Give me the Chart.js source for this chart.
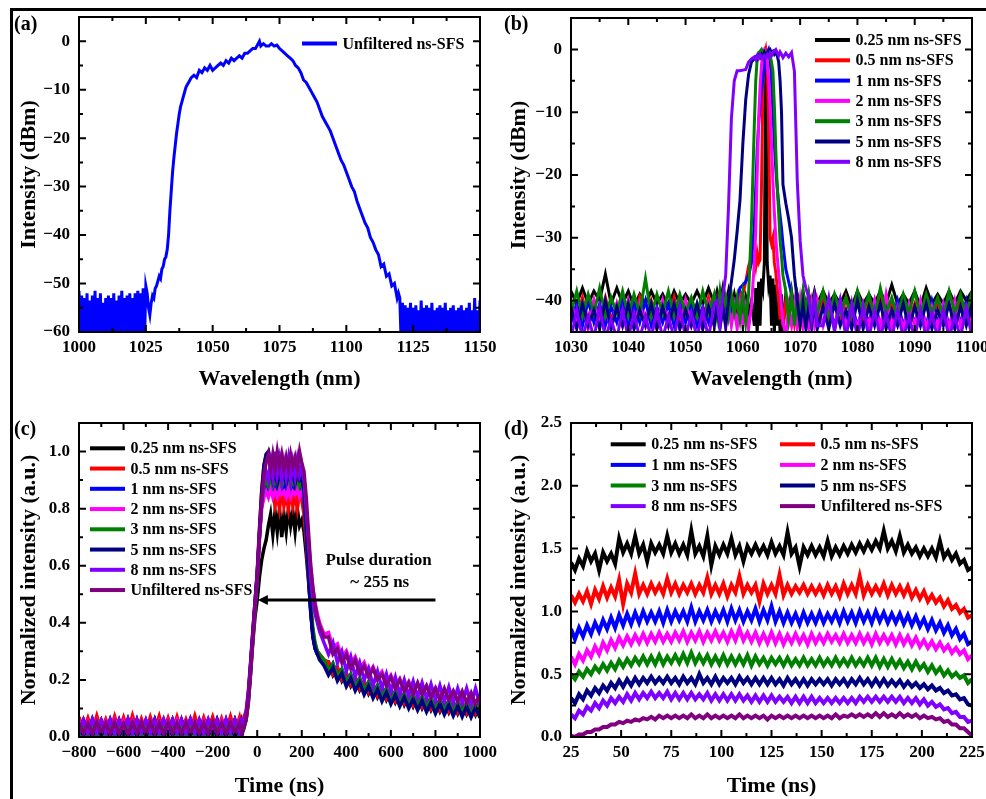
<!DOCTYPE html>
<html>
<head>
<meta charset="utf-8">
<script src="https://cdn.jsdelivr.net/npm/chart.js@4.4.1/dist/chart.umd.min.js"></script>
<style>
  html, body { margin: 0; padding: 0; background: #fff; }
  body { width: 986px; height: 799px; overflow: hidden; position: relative; }
  .frame { position: absolute; left: 10px; top: 8px; width: 1200px; height: 1200px; border: 3px solid #000; }
  canvas { position: absolute; }
  .tag { position: absolute; font: bold 20px/20px 'Liberation Serif', 'Times New Roman', serif; color: #000; }
</style>
</head>
<body>
<div class="frame"></div>
<canvas id="chart-a" width="560" height="430" style="left:-30px;top:-30px"></canvas>
<canvas id="chart-b" width="580" height="430" style="left:460px;top:-30px"></canvas>
<canvas id="chart-c" width="560" height="430" style="left:-30px;top:370px"></canvas>
<canvas id="chart-d" width="580" height="430" style="left:460px;top:370px"></canvas>
<div class="tag" style="left:14px;top:13px">(a)</div>
<div class="tag" style="left:504px;top:13px">(b)</div>
<div class="tag" style="left:14px;top:418px">(c)</div>
<div class="tag" style="left:504px;top:418px">(d)</div>
<script>
// (a) unfiltered spectrum
const aWavelength = [
  1000,1000.5,1001,1001.5,1002,1002.5,1003,1003.5,1004,1004.5,1005,1005.5,1006,1006.5,1007,1007.5,1008,1008.5,1009,1009.5,
  1010,1010.5,1011,1011.5,1012,1012.5,1013,1013.5,1014,1014.5,1015,1015.5,1016,1016.5,1017,1017.5,1018,1018.5,1019,1019.5,
  1020,1020.5,1021,1021.5,1022,1022.5,1023,1023.5,1024,1024.5,1025,
  1025.5,1026,1026.5,1027,1027.5,1028,1028.5,1029,1029.5,1030,
  1030.5,1031,1031.5,1032,1032.5,1033,1033.5,1034,1034.5,1035,
  1035.5,1036,1036.5,1037,1037.5,1038,1038.5,1039,1039.5,1040,
  1040.5,1041,1041.5,1042,1043,1044,1045,1046,1047,1048,
  1049,1050,1051,1052,1053,1054,1055,1056,1057,1058,
  1059,1060,1061,1062,1063,1064,1065,1066,1067,1067.5,
  1068,1069,1070,1071,1072,1073,1074,1075,1076,1077,
  1078,1079,1080,1081,1082,1083,1084,1085,1086,1087,
  1088,1089,1090,1091,1092,1093,1094,1095,1096,1097,
  1098,1099,1100,1101,1102,1103,1104,1105,1106,1107,
  1108,1109,1110,1111,1112,1113,1114,1115,1116,1117,
  1118,1119,1119.5,
  1120,1120.5,1121,1121.5,1122,1122.5,1123,1123.5,1124,1124.5,1125,1125.5,1126,1126.5,1127,1127.5,1128,1128.5,1129,1129.5,
  1130,1130.5,1131,1131.5,1132,1132.5,1133,1133.5,1134,1134.5,1135,1135.5,1136,1136.5,1137,1137.5,1138,1138.5,1139,1139.5,
  1140,1140.5,1141,1141.5,1142,1142.5,1143,1143.5,1144,1144.5,1145,1145.5,1146,1146.5,1147,1147.5,1148,1148.5,1149,1149.5,1150
];
const aIntensity = [
  -51.5,-62,-52.5,-62,-53,-62,-52,-62,-53.5,-62,-52.5,-62,-51.5,-62,-53,-62,-52,-62,-54,-62,
  -53,-62,-52.5,-62,-53,-62,-52,-62,-53.5,-62,-52.5,-62,-51.5,-62,-53,-62,-52.5,-62,-52,-62,
  -53,-62,-52,-62,-51.5,-62,-52,-62,-51,-62,-50.5,
  -52,-55,-56.5,-54,-52.5,-53,-51,-50.5,-49.5,-48.5,
  -49,-47,-46.5,-45,-44.5,-43,-40,-35,-31,-27,
  -24,-21.5,-19,-17,-15,-13.5,-12.5,-11.5,-10.5,-9.5,
  -9,-8.5,-8,-7.5,-7,-7.5,-6,-6.5,-5.5,-6,
  -5,-6,-5.5,-5,-4.5,-5,-4,-4.5,-3.5,-4,
  -3.5,-3,-3.5,-2.5,-2.5,-2,-1.5,-1.5,-0.5,0,
  -1,-0.5,-1,-1,-0.5,-1,-0.8,-1.5,-2,-2.5,
  -3,-3.5,-4,-5,-5.5,-6.5,-8,-8.5,-9.5,-10.5,
  -11.5,-12.5,-14,-15.5,-16.5,-17.5,-18.5,-20,-21.5,-23,
  -24.5,-25.5,-27,-28.5,-30,-31,-33,-34.5,-36,-37.5,
  -38.5,-40.5,-41.5,-43,-44,-46.5,-46,-48.5,-48,-50.5,
  -50,-53,-52,
  -53,-62,-54,-62,-54.5,-62,-55,-62,-54,-62,-55,-62,-54.5,-62,-55.5,-62,-53.5,-62,-55,-62,
  -54.5,-62,-55,-62,-54,-62,-55.5,-62,-55,-62,-54.5,-62,-55,-62,-54,-62,-55.5,-62,-55,-62,
  -54.5,-62,-55.5,-62,-55,-62,-54.5,-62,-55.5,-62,-55,-62,-54,-62,-55.5,-62,-53,-62,-55.5,-62,-53.5
];

// (b) filtered spectra, shared wavelength grid
const bWavelength = [
  1030,1031,1032,1033,1034,1035,1036,1037,1038,1039,1040,1041,1042,1043,1044,1045,1046,1047,1048,1049,1050,1051,1052,1053,1054,1055,
  1055.5,1056,1056.5,1057,1057.5,1058,1058.5,1059,1059.5,1060,1060.5,1061,1061.5,
  1062,1062.25,1062.5,1062.75,1063,1063.25,1063.5,1063.75,1064,1064.25,1064.5,1064.75,1065,1065.25,1065.5,1065.75,1066,1066.25,1066.5,1066.75,1067,
  1067.5,1068,1068.5,1069,1069.5,1070,1070.5,1071,1071.5,1072,1072.5,1073,
  1074,1075,1076,1077,1078,1079,1080,1081,1082,1083,1084,1085,1086,1087,1088,1089,1090,1091,1092,1093,1094,1095,1096,1097,1098,1099,1100
];
const bIntensityTicks = [-40, -30, -20, -10, 0];
const b025 = [
  -38.5,-40.5,-38,-40.5,-38.5,-40,-35.8,-40.5,-38,-40.5,-38.5,-41,-39,-40.5,-38.5,-40.5,-39,-41,-38.5,-40.5,-39,-40.5,-38.5,-40.5,-38,-40.5,
  -38.5,-40.5,-38,-41,-38.5,-41,-39,-41.5,-39,-42,-39.5,-42,-40,
  -44,-38,-45.5,-37,-44,-36.5,-38,-34,0,-34,-37.5,-36,-44,-36.5,-45,-37.5,-44,-38.5,-45.5,-39,-45,
  -39,-42,-38.5,-41.5,-39,-41,-38.5,-41,-39,-40.5,-38.5,-40.5,
  -38.5,-40.5,-39,-40.5,-38.5,-41,-38.5,-40.5,-39,-40.5,-38.5,-40.5,-37.5,-40.5,-39,-40.5,-38.5,-41,-38,-40.5,-39,-40.5,-38.5,-40.5,-38.5,-40,-38.5
];
const b05 = [
  -40,-43,-39.5,-43.5,-40,-43,-39.5,-43,-40.5,-43.5,-40,-43,-39.5,-43.5,-40,-43,-40.5,-43,-39.5,-43.5,-40,-43,-40.5,-43,-39.5,-43,
  -40,-43,-40.5,-43,-40,-42.5,-40,-41,-38.5,-39,-37,-34.5,-33,
  -33,-34.5,-32.5,-34,-33.5,-22,-6,-1,0,-2,-12,-30,-31,-30,-34,-35.5,-38,-40,-43,-41,-44,
  -40,-43,-39.5,-43.5,-40,-43,-40.5,-43,-39.5,-43.5,-40,-43,
  -40,-43,-40.5,-43.5,-39.5,-43,-40,-43.5,-40.5,-43,-39.5,-43,-40,-43.5,-40,-43,-40.5,-43.5,-39.5,-43,-40,-43,-40.5,-43.5,-39.5,-43,-40
];
const b1 = [
  -43.5,-40.5,-44,-40,-43.5,-40.5,-44,-41,-43.5,-40,-44,-40.5,-43.5,-40,-44,-41,-43.5,-40.5,-44,-40,-43.5,-40.5,-44,-41,-43.5,-40,
  -40.5,-43.5,-40,-43,-40.5,-42,-40,-39.5,-38,-37.5,-37,-36,-34,
  -28,-22,-16,-12,-9,-6.5,-4.5,-3,-1.5,-0.5,0,-1,-5,-10,-15,-19,-22,-24.5,-26.5,-28.5,-31,
  -35,-37,-39,-42,-40,-43.5,-40.5,-43.5,-40,-44,-40.5,-43.5,
  -43.5,-40.5,-44,-40,-43.5,-40.5,-44,-41,-43.5,-40,-44,-40.5,-43.5,-40,-44,-41,-43.5,-40.5,-44,-40,-43.5,-40.5,-44,-41,-43.5,-40,-44
];
const b2 = [
  -40,-44,-40.5,-44.5,-40,-44,-41,-44.5,-40.5,-44,-40,-44.5,-40.5,-44,-41,-44.5,-40,-44,-40.5,-44.5,-40,-44,-41,-44.5,-40.5,-44,
  -40.5,-44,-40,-44.5,-40.5,-44,-41,-44.5,-40.5,-44,-41,-44.5,-41,
  -34,-29,-20,-11,-6,-2.5,-0.5,0,-0.5,-2,-4.5,-9,-15,-21,-26,-30,-33,-35.5,-38,-41,-43.5,
  -45.5,-41,-44,-40.5,-44.5,-40,-44,-41,-44.5,-40.5,-44,-40,
  -44,-40.5,-44.5,-40,-44,-41,-44.5,-40.5,-44,-40,-44.5,-39,-44,-41,-44.5,-40.5,-44,-40,-44.5,-41,-44,-40.5,-44.5,-40,-44,-41,-44.5
];
const b3 = [
  -42,-38.5,-42.5,-39,-42,-38,-42.5,-39.5,-42,-38.5,-42.5,-39,-42,-36.5,-42.5,-39,-42,-38.5,-42.5,-39,-42,-39.5,-42.5,-38.5,-42,-39,
  -42.5,-38.5,-42,-39.5,-42.5,-39,-42,-39.5,-43,-39,-43.5,-39,-28,
  -12,-5,-1.5,-0.5,-0.3,0,-0.5,-0.3,-0.6,-0.4,-0.8,-1,-2,-3.5,-9,-16,-22,-26,-30.5,-33,-36,
  -38.5,-43,-39,-44,-39.5,-42.5,-38.5,-42,-39,-42.5,-39.5,-42,
  -38.5,-42.5,-39,-42,-39.5,-42.5,-38.5,-42,-39,-42.5,-38,-42,-39.5,-42.5,-39,-42,-38.5,-42.5,-39,-42,-39.5,-42.5,-38.5,-42,-39,-42.5,-38.5
];
const b5 = [
  -41,-44.5,-40.5,-44,-41.5,-44.5,-40,-44.5,-41,-44,-40.5,-44.5,-41.5,-44,-40.5,-44.5,-41,-44,-40.5,-44.5,-41.5,-44,-40.5,-44.5,-41,-44,
  -40.5,-44.5,-41,-44,-40,-37,-33.5,-29,-24,-15,-8,-4,-2,
  -1.5,-1.2,-1.5,-1,-1.3,-0.8,-1.2,-0.5,-1,-0.5,-0.2,0,-0.5,-0.3,-0.8,-0.5,-1,-2,-5,-10,-21.5,
  -24.5,-27,-30,-36,-40,-44,-40.5,-44.5,-41,-44,-40.5,-44.5,
  -41,-44.5,-40.5,-44,-41.5,-44.5,-40,-44.5,-41,-44,-40.5,-44.5,-41.5,-44,-40.5,-44.5,-41,-44,-40.5,-44.5,-41.5,-44,-40.5,-44.5,-41,-44,-40.5
];
const b8 = [
  -46,-41.5,-46,-42.5,-46,-41,-46,-43,-46,-41.5,-46,-42,-46,-42.5,-46,-41.5,-46,-42.5,-46,-41,-46,-42,-46,-41.5,-46,-40.5,
  -40,-44,-39.5,-36,-25,-11,-5,-3.4,-3.4,-3.3,-3.2,-2,-1.5,
  -1.2,-1.6,-1,-1.4,-0.8,-1.2,-1.5,-1,-1.3,-0.8,-1.2,-0.6,-1,-0.5,-0.2,0,-0.5,-1,-0.4,-0.8,-1.3,
  -0.6,-1.2,-0.5,-3.5,-21,-30.5,-36,-38,-39.5,-43,-39.5,-44,
  -44,-39.5,-45,-40,-46,-40.5,-46,-41,-46,-41.5,-46,-42,-46,-41.5,-46,-42.5,-46,-41.5,-46,-42,-46,-41.5,-46,-42.5,-46,-41,-46
];

// (c) temporal pulse shapes
const cTime = [
  -800,-780,-760,-740,-720,-700,-680,-660,-640,-620,-600,-580,-560,-540,-520,-500,-480,-460,-440,-420,
  -400,-380,-360,-340,-320,-300,-280,-260,-240,-220,-200,-180,-160,-140,-120,-100,-80,
  -70,-60,-50,-40,-30,-20,-10,0,10,20,30,40,50,60,70,80,90,100,110,120,
  130,140,150,160,170,180,190,200,210,220,230,240,250,260,270,280,290,300,
  320,340,360,380,400,420,440,460,480,500,520,540,560,580,600,620,640,660,680,700,
  720,740,760,780,800,820,840,860,880,900,920,940,960,980,1000
];
const c025 = [
  0.021,0.06,0.019,0.062,0.022,0.058,0.02,0.061,0.021,0.059,0.019,0.063,0.022,0.06,0.02,0.058,0.021,0.062,0.019,0.06,0.022,0.061,0.02,0.059,0.021,0.063,0.019,0.058,0.022,0.06,0.02,0.062,0.021,0.059,0.019,0.061,0.02,
  0.06,0.04,0.06,0.12,0.22,0.33,0.42,0.48,0.56,0.62,0.66,0.69,0.74,0.78,0.71,0.79,0.72,0.8,0.7,0.78,0.72,0.8,0.74,0.79,0.72,0.8,0.74,0.76,0.72,0.64,0.55,0.45,0.36,0.31,0.29,0.28,0.27,0.26,
  0.263,0.217,0.243,0.197,0.223,0.179,0.208,0.165,0.194,0.152,0.182,0.14,0.171,0.13,0.161,0.121,0.153,0.113,0.146,0.107,0.14,0.101,0.134,0.095,0.128,0.09,0.124,0.086,0.12,0.082,0.117,0.08,0.115,0.078,0.113
];
const c05 = [
  0.07,0.022,0.066,0.02,0.074,0.024,0.062,0.021,0.072,0.023,0.068,0.02,0.075,0.022,0.064,0.021,0.07,0.024,0.073,0.02,0.066,0.022,0.071,0.023,0.062,0.02,0.074,0.021,0.068,0.024,0.07,0.02,0.065,0.022,0.072,0.021,0.068,
  0.022,0.07,0.09,0.16,0.26,0.37,0.47,0.58,0.73,0.86,0.95,0.99,1.0,0.96,0.86,0.81,0.85,0.8,0.86,0.81,0.85,0.8,0.86,0.81,0.85,0.8,0.86,0.83,0.78,0.68,0.56,0.45,0.36,0.32,0.3,0.29,0.28,0.27,
  0.263,0.221,0.243,0.201,0.223,0.183,0.208,0.169,0.194,0.156,0.182,0.144,0.171,0.134,0.161,0.125,0.153,0.117,0.146,0.111,0.14,0.105,0.134,0.099,0.128,0.094,0.124,0.09,0.12,0.086,0.117,0.084,0.115,0.082,0.113
];
const c1 = [
  0.011,0.057,0.009,0.06,0.012,0.056,0.01,0.059,0.011,0.057,0.009,0.058,0.012,0.06,0.01,0.056,0.011,0.059,0.009,0.057,0.012,0.058,0.01,0.06,0.011,0.056,0.009,0.059,0.012,0.057,0.01,0.058,0.011,0.06,0.009,0.057,0.01,
  0.058,0.05,0.08,0.15,0.25,0.36,0.47,0.57,0.71,0.82,0.86,0.88,0.86,0.89,0.86,0.88,0.86,0.89,0.86,0.88,0.86,0.89,0.87,0.88,0.86,0.89,0.86,0.88,0.83,0.72,0.57,0.44,0.35,0.31,0.29,0.28,0.27,0.26,
  0.232,0.258,0.212,0.238,0.192,0.22,0.177,0.206,0.163,0.193,0.151,0.181,0.14,0.171,0.13,0.162,0.122,0.154,0.115,0.148,0.109,0.142,0.103,0.136,0.097,0.131,0.093,0.127,0.089,0.123,0.086,0.121,0.084,0.119,0.082
];
const c2 = [
  0.055,0.01,0.052,0.012,0.056,0.009,0.053,0.011,0.057,0.01,0.054,0.012,0.055,0.009,0.052,0.011,0.056,0.01,0.053,0.012,0.055,0.009,0.057,0.011,0.054,0.01,0.052,0.012,0.056,0.009,0.053,0.011,0.055,0.01,0.054,0.012,0.055,
  0.01,0.05,0.08,0.14,0.24,0.35,0.46,0.56,0.7,0.8,0.84,0.86,0.84,0.87,0.84,0.86,0.84,0.87,0.85,0.86,0.84,0.87,0.84,0.86,0.85,0.87,0.84,0.86,0.84,0.77,0.68,0.6,0.52,0.47,0.43,0.4,0.38,0.36,
  0.366,0.314,0.326,0.279,0.301,0.259,0.281,0.239,0.261,0.221,0.246,0.206,0.229,0.19,0.216,0.178,0.204,0.167,0.194,0.157,0.186,0.15,0.178,0.143,0.172,0.137,0.166,0.132,0.161,0.127,0.156,0.122,0.152,0.118,0.148
];
const c3 = [
  0.001,0.04,0.0,0.038,0.002,0.041,0.0,0.039,0.001,0.042,0.0,0.038,0.002,0.04,0.001,0.041,0.0,0.039,0.002,0.04,0.001,0.042,0.0,0.038,0.001,0.041,0.002,0.039,0.0,0.04,0.001,0.042,0.0,0.039,0.002,0.04,0.001,
  0.04,0.03,0.06,0.13,0.23,0.34,0.45,0.55,0.7,0.82,0.88,0.9,0.88,0.91,0.88,0.9,0.88,0.91,0.88,0.9,0.89,0.91,0.88,0.9,0.88,0.91,0.88,0.9,0.85,0.74,0.6,0.47,0.38,0.33,0.3,0.29,0.28,0.27,
  0.234,0.256,0.214,0.236,0.194,0.218,0.179,0.204,0.165,0.191,0.153,0.179,0.142,0.169,0.132,0.16,0.124,0.152,0.117,0.146,0.111,0.14,0.105,0.134,0.099,0.129,0.095,0.125,0.091,0.121,0.088,0.119,0.086,0.117,0.084
];
const c5 = [
  0.045,0.002,0.042,0.0,0.047,0.003,0.044,0.001,0.046,0.002,0.043,0.0,0.045,0.003,0.047,0.001,0.042,0.002,0.046,0.0,0.044,0.003,0.045,0.001,0.043,0.002,0.047,0.0,0.044,0.003,0.046,0.001,0.043,0.002,0.045,0.0,0.044,
  0.0,0.04,0.07,0.14,0.25,0.36,0.47,0.57,0.72,0.86,0.95,0.99,1.0,0.94,0.9,0.93,0.89,0.92,0.9,0.93,0.89,0.92,0.9,0.93,0.89,0.92,0.9,0.91,0.86,0.74,0.58,0.44,0.35,0.31,0.29,0.27,0.26,0.25,
  0.217,0.243,0.197,0.223,0.177,0.205,0.162,0.191,0.148,0.178,0.136,0.166,0.125,0.156,0.115,0.147,0.107,0.139,0.1,0.133,0.094,0.127,0.088,0.121,0.082,0.116,0.078,0.112,0.074,0.108,0.071,0.106,0.069,0.104,0.067
];
const c8 = [
  0.016,0.058,0.014,0.061,0.017,0.057,0.015,0.06,0.013,0.059,0.016,0.062,0.014,0.058,0.017,0.06,0.015,0.057,0.016,0.061,0.014,0.059,0.017,0.058,0.015,0.062,0.016,0.057,0.014,0.06,0.017,0.058,0.015,0.061,0.016,0.059,0.015,
  0.06,0.05,0.08,0.14,0.24,0.35,0.46,0.56,0.7,0.82,0.9,0.93,0.9,0.96,0.91,1.0,0.92,0.97,0.9,0.96,0.91,0.97,0.9,0.96,0.91,0.97,0.92,0.95,0.9,0.8,0.68,0.56,0.48,0.43,0.4,0.37,0.35,0.33,
  0.29,0.33,0.26,0.3,0.23,0.28,0.21,0.26,0.2,0.24,0.18,0.23,0.17,0.22,0.16,0.21,0.15,0.2,0.145,0.195,0.14,0.19,0.135,0.185,0.13,0.18,0.125,0.175,0.12,0.17,0.12,0.17,0.115,0.17,0.115
];
const cUnf = [
  0.05,0.012,0.048,0.01,0.053,0.013,0.049,0.011,0.052,0.012,0.047,0.01,0.051,0.013,0.05,0.011,0.054,0.012,0.048,0.01,0.051,0.013,0.049,0.012,0.052,0.011,0.048,0.013,0.05,0.01,0.053,0.012,0.049,0.011,0.051,0.013,0.05,
  0.012,0.03,0.06,0.12,0.22,0.34,0.45,0.56,0.7,0.83,0.92,0.96,0.99,0.94,0.99,0.94,1.0,0.95,0.99,0.94,0.98,0.94,0.99,0.95,0.98,0.94,1.0,0.96,0.93,0.84,0.72,0.6,0.52,0.46,0.42,0.39,0.37,0.35,
  0.35,0.29,0.31,0.26,0.29,0.24,0.27,0.22,0.25,0.21,0.24,0.2,0.22,0.18,0.21,0.17,0.2,0.16,0.19,0.15,0.19,0.15,0.18,0.14,0.17,0.13,0.17,0.13,0.16,0.125,0.16,0.12,0.155,0.115,0.15
];
const cArrow = [800, 3];        // ns, arrow tail and tip
const cArrowLevel = 0.48;
const cNote = ['Pulse duration', '~ 255 ns'];
const cNoteAt = [[545, 0.617], [550, 0.54]];

// (d) pulse tops, shifted
const dTime = [
  25,27,29,31,33,35,37,39,41,43,45,47,49,51,53,55,57,59,61,63,65,67,69,71,73,75,77,79,81,83,85,87,89,91,93,95,97,99,101,103,
  105,107,109,111,113,115,117,119,121,123,125,127,129,131,133,135,137,139,141,143,145,147,149,151,153,155,157,159,161,163,
  165,167,169,171,173,175,177,179,181,183,185,187,189,191,193,195,197,199,201,203,205,207,209,211,213,215,217,219,221,223,225
];
const d025 = [
  1.39,1.33,1.42,1.36,1.48,1.4,1.46,1.33,1.47,1.4,1.46,
  1.38,1.58,1.47,1.54,1.46,1.6,1.46,1.53,1.4,1.54,
  1.47,1.53,1.46,1.6,1.47,1.54,1.46,1.53,1.45,1.64,
  1.46,1.52,1.44,1.6,1.37,1.52,1.45,1.53,1.46,1.58,
  1.45,1.52,1.4,1.52,1.46,1.53,1.46,1.52,1.45,1.55,
  1.46,1.52,1.45,1.63,1.46,1.51,1.36,1.51,1.45,1.52,
  1.45,1.51,1.44,1.56,1.44,1.51,1.45,1.52,1.46,1.53,
  1.47,1.54,1.48,1.55,1.49,1.56,1.5,1.64,1.5,1.56,
  1.48,1.6,1.47,1.53,1.46,1.51,1.44,1.5,1.44,1.5,
  1.43,1.56,1.43,1.48,1.41,1.46,1.38,1.41,1.33,1.35
];
const d05 = [
  1.13,1.07,1.14,1.08,1.16,1.06,1.17,1.1,1.2,1.11,1.19,
  1.12,1.25,1.06,1.22,1.15,1.3,1.14,1.21,1.14,1.22,
  1.15,1.21,1.14,1.26,1.15,1.22,1.14,1.21,1.15,1.22,
  1.14,1.21,1.15,1.27,1.14,1.21,1.14,1.22,1.12,1.21,
  1.15,1.28,1.14,1.21,1.15,1.21,1.08,1.22,1.14,1.21,
  1.14,1.29,1.13,1.21,1.14,1.2,1.15,1.21,1.14,1.2,
  1.14,1.2,1.13,1.21,1.14,1.2,1.12,1.22,1.14,1.21,
  1.14,1.28,1.13,1.21,1.14,1.2,1.14,1.22,1.13,1.21,
  1.14,1.2,1.13,1.2,1.11,1.17,1.1,1.16,1.08,1.13,
  1.07,1.11,1.04,1.09,1.02,1.05,0.99,1.02,0.95,0.97
];
const d1 = [
  0.86,0.78,0.87,0.8,0.89,0.82,0.91,0.84,0.93,0.86,0.95,
  0.87,0.97,0.89,0.98,0.9,0.99,0.91,1.0,0.92,0.99,
  0.92,1.0,0.91,1.01,0.92,1.0,0.93,1.0,0.92,1.03,
  0.92,1.0,0.93,1.01,0.92,1.0,0.93,1.01,0.92,1.02,
  0.93,1.01,0.92,1.0,0.93,1.02,0.92,1.01,0.93,1.04,
  0.92,1.0,0.91,0.99,0.91,0.98,0.9,0.99,0.91,0.98,
  0.91,0.99,0.91,0.98,0.92,0.99,0.91,1.0,0.92,0.99,
  0.91,1.0,0.92,0.99,0.91,1.0,0.92,0.99,0.91,0.98,
  0.91,0.98,0.9,0.97,0.89,0.96,0.88,0.94,0.86,0.93,
  0.85,0.91,0.83,0.89,0.81,0.86,0.78,0.82,0.74,0.76
];
const d2 = [
  0.64,0.58,0.66,0.61,0.69,0.64,0.72,0.66,0.75,0.69,0.77,
  0.71,0.79,0.73,0.8,0.74,0.81,0.75,0.82,0.75,0.82,
  0.76,0.83,0.76,0.82,0.76,0.83,0.77,0.84,0.76,0.83,
  0.77,0.84,0.76,0.83,0.77,0.84,0.77,0.83,0.76,0.84,
  0.77,0.86,0.77,0.83,0.76,0.83,0.75,0.82,0.75,0.83,
  0.75,0.82,0.74,0.81,0.75,0.82,0.75,0.81,0.74,0.82,
  0.75,0.81,0.75,0.82,0.76,0.81,0.75,0.82,0.75,0.81,
  0.75,0.82,0.75,0.81,0.74,0.82,0.75,0.81,0.75,0.81,
  0.74,0.81,0.74,0.8,0.73,0.79,0.72,0.77,0.71,0.76,
  0.7,0.75,0.69,0.73,0.67,0.71,0.66,0.69,0.62,0.65
];
const d3 = [
  0.5,0.46,0.52,0.48,0.54,0.5,0.56,0.52,0.58,0.53,0.59,
  0.54,0.61,0.56,0.62,0.57,0.63,0.58,0.64,0.58,0.64,
  0.58,0.65,0.58,0.64,0.59,0.65,0.59,0.66,0.59,0.67,
  0.59,0.65,0.59,0.65,0.58,0.64,0.58,0.65,0.58,0.64,
  0.58,0.64,0.58,0.65,0.57,0.64,0.58,0.63,0.57,0.63,
  0.58,0.63,0.57,0.63,0.57,0.62,0.57,0.63,0.57,0.62,
  0.57,0.63,0.57,0.62,0.57,0.63,0.57,0.62,0.57,0.63,
  0.57,0.62,0.57,0.63,0.57,0.63,0.56,0.62,0.56,0.62,
  0.56,0.61,0.55,0.6,0.54,0.6,0.54,0.58,0.52,0.57,
  0.51,0.55,0.49,0.53,0.48,0.51,0.47,0.49,0.43,0.46
];
const d5 = [
  0.31,0.27,0.34,0.3,0.37,0.33,0.39,0.35,0.41,0.37,0.43,
  0.39,0.45,0.4,0.46,0.41,0.47,0.42,0.47,0.43,0.48,
  0.43,0.47,0.43,0.48,0.43,0.47,0.42,0.48,0.43,0.47,
  0.42,0.5,0.43,0.47,0.42,0.48,0.42,0.47,0.43,0.47,
  0.42,0.48,0.43,0.47,0.42,0.47,0.42,0.47,0.42,0.47,
  0.42,0.46,0.41,0.47,0.42,0.46,0.41,0.46,0.41,0.46,
  0.42,0.46,0.42,0.46,0.41,0.46,0.42,0.46,0.41,0.46,
  0.42,0.47,0.42,0.46,0.41,0.46,0.41,0.46,0.41,0.45,
  0.41,0.45,0.4,0.44,0.4,0.43,0.39,0.42,0.38,0.41,
  0.37,0.39,0.35,0.37,0.33,0.34,0.3,0.31,0.26,0.25
];
const d8 = [
  0.18,0.15,0.21,0.18,0.24,0.21,0.27,0.23,0.29,0.25,0.31,
  0.27,0.32,0.28,0.34,0.29,0.35,0.3,0.35,0.31,0.36,
  0.31,0.35,0.31,0.36,0.3,0.35,0.3,0.35,0.3,0.35,
  0.3,0.34,0.3,0.35,0.29,0.34,0.29,0.34,0.29,0.34,
  0.29,0.34,0.29,0.33,0.28,0.33,0.28,0.33,0.28,0.33,
  0.28,0.32,0.28,0.32,0.27,0.32,0.27,0.32,0.27,0.32,
  0.27,0.31,0.27,0.31,0.27,0.31,0.27,0.31,0.27,0.31,
  0.27,0.32,0.28,0.32,0.28,0.32,0.28,0.32,0.28,0.32,
  0.28,0.32,0.27,0.31,0.27,0.31,0.26,0.3,0.25,0.28,
  0.24,0.26,0.22,0.23,0.19,0.2,0.16,0.16,0.12,0.13
];
const dUnf = [
  0.01,0.0,0.02,0.02,0.04,0.04,0.06,0.06,0.08,0.08,0.1,
  0.1,0.12,0.11,0.13,0.12,0.14,0.13,0.15,0.14,0.16,
  0.14,0.17,0.15,0.17,0.15,0.17,0.15,0.17,0.15,0.18,
  0.15,0.17,0.15,0.18,0.15,0.17,0.15,0.17,0.15,0.17,
  0.15,0.18,0.15,0.17,0.15,0.17,0.15,0.17,0.14,0.17,
  0.15,0.17,0.15,0.17,0.15,0.17,0.15,0.17,0.15,0.17,
  0.15,0.17,0.15,0.17,0.15,0.18,0.15,0.17,0.16,0.18,
  0.16,0.18,0.16,0.18,0.16,0.19,0.16,0.19,0.16,0.18,
  0.16,0.19,0.16,0.18,0.16,0.18,0.15,0.17,0.15,0.16,
  0.14,0.15,0.12,0.13,0.1,0.1,0.07,0.07,0.04,0.01
];

const seriesLabels = ['0.25 nm ns-SFS', '0.5 nm ns-SFS', '1 nm ns-SFS', '2 nm ns-SFS', '3 nm ns-SFS', '5 nm ns-SFS', '8 nm ns-SFS', 'Unfiltered ns-SFS'];
const seriesColors = ['#000000', '#ff0000', '#0000ff', '#ff00ff', '#008000', '#000080', '#8000ff', '#800080'];

const FONT = "'Liberation Serif', 'Times New Roman', Times, serif";
Chart.defaults.font.family = FONT;
Chart.defaults.color = '#000';

const signed = v => (v < 0 ? '\u2212' + Math.abs(v) : String(v));
const oneDec = v => v.toFixed(1);

function lineSet(label, xs, ys, color, order, width) {
  return {
    label: label,
    data: xs.map((x, i) => ({ x: x, y: ys[i] })),
    borderColor: color,
    backgroundColor: color,
    borderWidth: width,
    pointRadius: 0,
    tension: 0,
    clip: 0,
    order: order
  };
}

// frame around the plot with inward major/minor ticks on all four sides
const boxTicks = {
  id: 'boxTicks',
  afterDatasetsDraw(chart) {
    const { ctx, chartArea: a } = chart;
    ctx.save();
    ctx.strokeStyle = '#000';
    ctx.lineWidth = 2;
    ctx.strokeRect(a.left, a.top, a.right - a.left, a.bottom - a.top);
    ['x', 'y'].forEach(id => {
      const s = chart.scales[id];
      const vals = s.ticks.map(t => t.value);
      const half = (vals[1] - vals[0]) / 2;
      for (let k = -2; k <= vals.length * 2 + 2; k++) {
        const v = vals[0] + k * half;
        if (v < s.min - 1e-9 || v > s.max + 1e-9) continue;
        const p = s.getPixelForValue(v);
        const len = k % 2 === 0 ? 7 : 4;
        ctx.beginPath();
        if (id === 'x') {
          if (p <= a.left + 1 || p >= a.right - 1) continue;
          ctx.moveTo(p, a.bottom); ctx.lineTo(p, a.bottom - len);
          ctx.moveTo(p, a.top); ctx.lineTo(p, a.top + len);
        } else {
          if (p <= a.top + 1 || p >= a.bottom - 1) continue;
          ctx.moveTo(a.left, p); ctx.lineTo(a.left + len, p);
          ctx.moveTo(a.right, p); ctx.lineTo(a.right - len, p);
        }
        ctx.stroke();
      }
    });
    ctx.restore();
  }
};

// legend drawn inside the plot area
const lineLegend = {
  id: 'lineLegend',
  afterDraw(chart, args, o) {
    const { ctx, chartArea: a } = chart;
    ctx.save();
    ctx.font = 'bold 16px ' + FONT;
    ctx.textBaseline = 'middle';
    ctx.textAlign = 'left';
    chart.data.datasets.forEach((ds, i) => {
      const col = i % o.cols, row = Math.floor(i / o.cols);
      const x = a.left + o.x + col * o.colW;
      const y = a.top + o.y + row * o.rowH;
      ctx.fillStyle = ds.borderColor;
      ctx.fillRect(x, y - 2, 35, 4);
      ctx.fillStyle = '#000';
      ctx.fillText(ds.label, x + 40.5, y + 1);
    });
    ctx.restore();
  }
};

// arrow and note in panel (c)
const pulseNote = {
  id: 'pulseNote',
  afterDraw(chart) {
    const { ctx, scales: { x, y } } = chart;
    const x0 = x.getPixelForValue(cArrow[0]);
    const x1 = x.getPixelForValue(cArrow[1]);
    const yy = y.getPixelForValue(cArrowLevel);
    ctx.save();
    ctx.strokeStyle = '#000';
    ctx.fillStyle = '#000';
    ctx.lineWidth = 3;
    ctx.beginPath(); ctx.moveTo(x0, yy); ctx.lineTo(x1 + 8, yy); ctx.stroke();
    ctx.beginPath(); ctx.moveTo(x1, yy); ctx.lineTo(x1 + 10, yy - 5); ctx.lineTo(x1 + 10, yy + 5); ctx.closePath(); ctx.fill();
    ctx.font = 'bold 17px ' + FONT;
    ctx.textAlign = 'center';
    ctx.textBaseline = 'middle';
    cNote.forEach((t, i) => ctx.fillText(t, x.getPixelForValue(cNoteAt[i][0]), y.getPixelForValue(cNoteAt[i][1])));
    ctx.restore();
  }
};

function axis(min, max, step, fmt, title, titlePad, fit) {
  return {
    type: 'linear', min: min, max: max,
    ticks: { stepSize: step, includeBounds: false, autoSkip: false, maxRotation: 0, padding: 5,
             font: { size: 17, weight: 'bold' }, color: '#000', callback: fmt },
    grid: { display: false, drawTicks: false },
    border: { display: false },
    title: { display: true, text: title, color: '#000', font: { size: 22, weight: 'bold' }, padding: titlePad },
    afterFit: fit
  };
}

function drawPanel(id, datasets, p, extra) {
  const xAxis = axis(p.x[0], p.x[1], p.x[2], p.xFmt, p.xTitle, { top: 0, bottom: p.xTitlePad }, s => { s.height = p.xHeight; });
  const yAxis = axis(p.y[0], p.y[1], p.y[2], p.yFmt, p.yTitle, { top: 16, bottom: 0 }, s => { s.width = p.yWidth; });
  yAxis.ticks.padding = 9;
  if (p.yTicks) {
    yAxis.afterBuildTicks = s => { s.ticks = p.yTicks.map(v => ({ value: v })); };
  }
  new Chart(document.getElementById(id).getContext('2d'), {
    type: 'line',
    data: { datasets: datasets },
    options: {
      responsive: false,
      animation: false,
      events: [],
      layout: { padding: { left: 30, top: p.top, right: p.right, bottom: 0 } },
      plugins: { legend: { display: false }, tooltip: { enabled: false }, lineLegend: p.legend },
      scales: { x: xAxis, y: yAxis }
    },
    plugins: [boxTicks, lineLegend].concat(extra || [])
  });
}

// panel (a)
drawPanel('chart-a', [lineSet('Unfiltered ns-SFS', aWavelength, aIntensity, '#0000ff', 0, 3)], {
  top: 47, right: 50, xHeight: 68, yWidth: 79, xTitlePad: 7,
  x: [1000, 1150, 25], y: [-60, 5, 10], xFmt: v => String(v), yFmt: signed,
  xTitle: 'Wavelength (nm)', yTitle: 'Intensity (dBm)',
  legend: { x: 223, y: 26.5, rowH: 20.3, cols: 1, colW: 0 }
});

// panel (b)
const bSeries = [b025, b05, b1, b2, b3, b5, b8];
drawPanel('chart-b', bSeries.map((ys, i) => lineSet(seriesLabels[i], bWavelength, ys, seriesColors[i], bSeries.length - i, 3)), {
  top: 48, right: 68, xHeight: 68, yWidth: 81, xTitlePad: 7,
  x: [1030, 1100, 10], y: [-45, 5, 10], yTicks: bIntensityTicks, xFmt: v => String(v), yFmt: signed,
  xTitle: 'Wavelength (nm)', yTitle: 'Intensity (dBm)',
  legend: { x: 244, y: 22, rowH: 20.3, cols: 1, colW: 0 }
});

// panel (c)
const cSeries = [c025, c05, c1, c2, c3, c5, c8, cUnf];
drawPanel('chart-c', cSeries.map((ys, i) => lineSet(seriesLabels[i], cTime, ys, seriesColors[i], cSeries.length - i, 3.5)), {
  top: 53, right: 50, xHeight: 63, yWidth: 79, xTitlePad: 0,
  x: [-800, 1000, 200], y: [0, 1.1, 0.2], xFmt: signed, yFmt: oneDec,
  xTitle: 'Time (ns)', yTitle: 'Normalized intensity (a.u.)',
  legend: { x: 11, y: 25.3, rowH: 20.25, cols: 1, colW: 0 }
}, [pulseNote]);

// panel (d)
const dSeries = [d025, d05, d1, d2, d3, d5, d8, dUnf];
drawPanel('chart-d', dSeries.map((ys, i) => lineSet(seriesLabels[i], dTime, ys, seriesColors[i], dSeries.length - i, 4)), {
  top: 53, right: 68, xHeight: 63, yWidth: 81, xTitlePad: 0,
  x: [25, 225, 25], y: [0, 2.5, 0.5], xFmt: v => String(v), yFmt: oneDec,
  xTitle: 'Time (ns)', yTitle: 'Normalized intensity (a.u.)',
  legend: { x: 39.7, y: 21.3, rowH: 20.6, cols: 2, colW: 169.3 }
});
</script>
</body>
</html>
